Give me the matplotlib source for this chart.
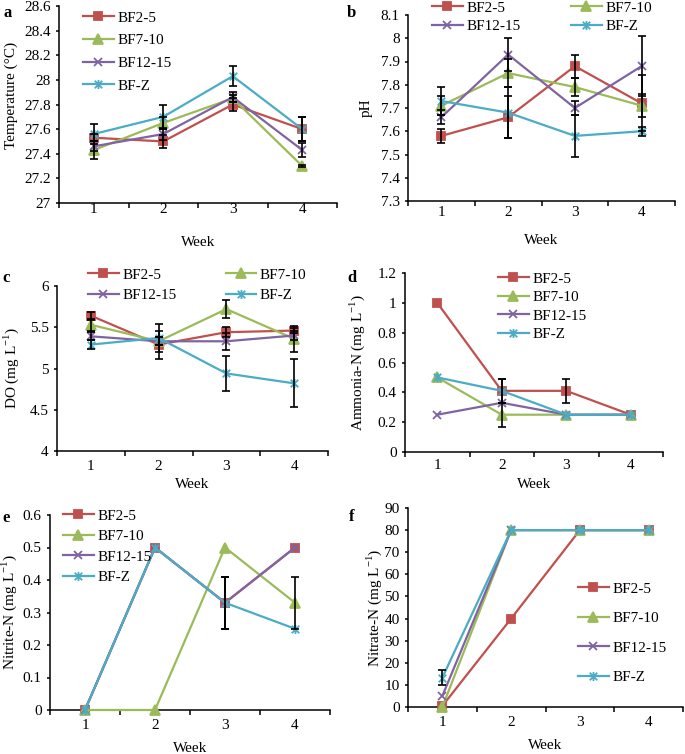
import numpy as np
import matplotlib
matplotlib.use("Agg")
import matplotlib.pyplot as plt
from matplotlib.path import Path

plt.rcParams['font.family'] = ['Liberation Serif', 'DejaVu Serif']
plt.rcParams['mathtext.fontset'] = 'custom'
plt.rcParams['mathtext.rm'] = 'Liberation Serif'
plt.rcParams['font.size'] = 11

# ---------------- data ----------------
weeks = [1, 2, 3, 4]
series_names = ['BF2-5', 'BF7-10', 'BF12-15', 'BF-Z']

temp_bf25 = [27.53, 27.50, 27.80, 27.60]
temp_bf710 = [27.43, 27.65, 27.85, 27.30]
temp_bf1215 = [27.46, 27.56, 27.86, 27.43]
temp_bfz = [27.56, 27.70, 28.03, 27.60]
temp_err_bf25 = [0.03, 0.05, 0.05, 0.10]
temp_err_bf710 = [0.07, 0.05, 0.03, 0.01]
temp_err_bf1215 = [0.04, 0.05, 0.04, 0.06]
temp_err_bfz = [0.08, 0.10, 0.08, 0.10]

ph_bf25 = [7.58, 7.66, 7.88, 7.72]
ph_bf710 = [7.71, 7.85, 7.79, 7.71]
ph_bf1215 = [7.66, 7.93, 7.70, 7.88]
ph_bfz = [7.73, 7.68, 7.58, 7.60]
ph_err_bf25 = [0.03, 0.09, 0.05, 0.12]
ph_err_bf710 = [0.04, 0.06, 0.04, 0.05]
ph_err_bf1215 = [0.03, 0.07, 0.03, 0.13]
ph_err_bfz = [0.06, 0.11, 0.09, 0.02]

do_bf25 = [5.64, 5.29, 5.44, 5.46]
do_bf710 = [5.53, 5.33, 5.72, 5.36]
do_bf1215 = [5.39, 5.33, 5.33, 5.40]
do_bfz = [5.29, 5.37, 4.94, 4.82]
do_err_bf25 = [0.05, 0.17, 0.06, 0.03]
do_err_bf710 = [0.07, 0.05, 0.11, 0.16]
do_err_bf1215 = [0.05, 0.05, 0.10, 0.05]
do_err_bfz = [0.05, 0.17, 0.21, 0.29]

amm_bf25 = [1.00, 0.41, 0.41, 0.25]
amm_bf710 = [0.50, 0.25, 0.25, 0.25]
amm_bf1215 = [0.25, 0.33, 0.25, 0.25]
amm_bfz = [0.50, 0.41, 0.25, 0.25]
amm_err_bf25 = [0, 0.08, 0.08, 0]
amm_err_bf710 = [0, 0.08, 0, 0]
amm_err_bf1215 = [0, 0, 0, 0]
amm_err_bfz = [0, 0.08, 0, 0]

nitrite_bf25 = [0, 0.50, 0.33, 0.50]
nitrite_bf710 = [0, 0, 0.50, 0.33]
nitrite_bf1215 = [0, 0.50, 0.33, 0.50]
nitrite_bfz = [0, 0.50, 0.33, 0.25]
nitrite_err_bf25 = [0, 0, 0.08, 0]
nitrite_err_bf710 = [0, 0, 0, 0.08]
nitrite_err_bf1215 = [0, 0, 0.08, 0]
nitrite_err_bfz = [0, 0, 0.08, 0]

nitrate_bf25 = [0.5, 40, 80, 80]
nitrate_bf710 = [0, 80, 80, 80]
nitrate_bf1215 = [5, 80, 80, 80]
nitrate_bfz = [13.3, 80, 80, 80]
nitrate_err_bf25 = [0, 0, 0, 0]
nitrate_err_bf710 = [0, 0, 0, 0]
nitrate_err_bf1215 = [0, 0, 0, 0]
nitrate_err_bfz = [3.3, 0, 0, 0]

temp_ticks = [27, 27.2, 27.4, 27.6, 27.8, 28, 28.2, 28.4, 28.6]
ph_ticks = [7.3, 7.4, 7.5, 7.6, 7.7, 7.8, 7.9, 8, 8.1]
do_ticks = [4, 4.5, 5, 5.5, 6]
amm_ticks = [0, 0.2, 0.4, 0.6, 0.8, 1, 1.2]
nitrite_ticks = [0, 0.1, 0.2, 0.3, 0.4, 0.5, 0.6]
nitrate_ticks = [0, 10, 20, 30, 40, 50, 60, 70, 80, 90]

# ---------------- styles ----------------
colors = ['#C0504D', '#9BBB59', '#8064A2', '#4BACC6']
star = Path([(-1, -1), (1, 1), (-1, 1), (1, -1), (0, -1.2), (0, 1.2)],
            [Path.MOVETO, Path.LINETO, Path.MOVETO, Path.LINETO, Path.MOVETO, Path.LINETO])
markers = ['s', '^', 'x', star]
msizes = [6, 6.5, 6, 6.5]

W, H = 685, 754
fig = plt.figure(figsize=(W / 100, H / 100), dpi=100)


def rect(l, r, t, b):
    return [l / W, 1 - b / H, (r - l) / W, (b - t) / H]


def fmt(v):
    return '%g' % v


def panel(box, vals, errs, ticks, ylabel, letter, letter_xy, ylab_xy, xlab_y, xpad,
          leg_xy, ncol, lspacing, cspacing, order):
    ax = fig.add_axes(rect(*box))
    for i, (v, e) in enumerate(zip(vals, errs)):
        ax.plot(weeks, v, color=colors[i], lw=1.6, marker=markers[i], ms=msizes[i],
                mew=1.3, label=series_names[i], clip_on=False, zorder=3)
    for i, (v, e) in enumerate(zip(vals, errs)):
        x = np.array(weeks, float)
        v = np.array(v, float)
        e = np.array(e, float)
        m = e > 0
        if m.any():
            ax.errorbar(x[m], v[m], yerr=e[m], fmt='none', ecolor='black', elinewidth=1.2,
                        capsize=3, capthick=1.2, zorder=4, clip_on=False)
    ax.set_xlim(0.5, 4.5)
    ax.set_ylim(ticks[0], ticks[-1])
    ax.set_yticks(ticks)
    ax.set_yticklabels([fmt(t) for t in ticks])
    ax.set_xticks(weeks)
    ax.set_xticklabels([str(w) for w in weeks])
    ax.set_xticks([0.5, 1.5, 2.5, 3.5, 4.5], minor=True)
    ax.tick_params(axis='x', which='major', length=0, pad=xpad, labelsize=11)
    ax.tick_params(axis='x', which='minor', length=3.5, width=1.1, direction='out')
    ax.tick_params(axis='y', which='major', length=2.5, width=1.1, direction='out', pad=3.5, labelsize=11)
    for s in ['top', 'right']:
        ax.spines[s].set_visible(False)
    for s in ['left', 'bottom']:
        ax.spines[s].set_linewidth(1.1)
    ax.set_ylabel(ylabel, fontsize=11)
    ax.yaxis.set_label_coords(*ylab_xy)
    ax.yaxis.label.set_va('center')
    ax.set_xlabel('Week', fontsize=11)
    ax.xaxis.set_label_coords(0.5, xlab_y)
    ax.xaxis.label.set_va('center')
    h, l = ax.get_legend_handles_labels()
    ax.legend([h[k] for k in order], [l[k] for k in order], loc='upper left',
              bbox_to_anchor=(leg_xy[0] / W, 1 - leg_xy[1] / H), bbox_transform=fig.transFigure,
              ncol=ncol, frameon=False, borderpad=0, borderaxespad=0, handlelength=2.0,
              handletextpad=0.25, labelspacing=lspacing, columnspacing=cspacing, fontsize=11)
    fig.text(letter_xy[0] / W, 1 - letter_xy[1] / H, letter, fontsize=12, fontweight='bold',
             ha='left', va='center')
    return ax


panel((59, 337, 6, 203),
      [temp_bf25, temp_bf710, temp_bf1215, temp_bfz],
      [temp_err_bf25, temp_err_bf710, temp_err_bf1215, temp_err_bfz],
      temp_ticks, 'Temperature (°C)', 'a', (3, 13), (-0.173, 0.545), -0.198, 0.3,
      (83, 11), 1, 0.59, 2.0, [0, 1, 2, 3])

panel((408, 675, 15, 201),
      [ph_bf25, ph_bf710, ph_bf1215, ph_bfz],
      [ph_err_bf25, ph_err_bf710, ph_err_bf1215, ph_err_bfz],
      ph_ticks, 'pH', 'b', (347, 13), (-0.157, 0.5), -0.21, 3.4,
      (432, 1), 2, 0.31, 3.3, [0, 2, 1, 3])

panel((57, 328, 286, 451),
      [do_bf25, do_bf710, do_bf1215, do_bfz],
      [do_err_bf25, do_err_bf710, do_err_bf1215, do_err_bfz],
      do_ticks, 'DO (mg L$^{-1}$)', 'c', (2, 278), (-0.17, 0.5), -0.206, 6.5,
      (88, 268), 2, 0.44, 3.2, [0, 2, 1, 3])

panel((405, 663, 273, 452),
      [amm_bf25, amm_bf710, amm_bf1215, amm_bfz],
      [amm_err_bf25, amm_err_bf710, amm_err_bf1215, amm_err_bfz],
      amm_ticks, 'Ammonia-N (mg L$^{-1}$)', 'd', (347, 278), (-0.186, 0.5), -0.184, 5.3,
      (498, 272), 1, 0.31, 2.0, [0, 1, 2, 3])

panel((50, 330, 515, 710),
      [nitrite_bf25, nitrite_bf710, nitrite_bf1215, nitrite_bfz],
      [nitrite_err_bf25, nitrite_err_bf710, nitrite_err_bf1215, nitrite_err_bfz],
      nitrite_ticks, 'Nitrite-N (mg L$^{-1}$)', 'e', (2, 518), (-0.146, 0.5), -0.195, 6.8,
      (63, 509), 1, 0.44, 2.0, [0, 1, 2, 3])

panel((408, 683, 508, 707),
      [nitrate_bf25, nitrate_bf710, nitrate_bf1215, nitrate_bfz],
      [nitrate_err_bf25, nitrate_err_bf710, nitrate_err_bf1215, nitrate_err_bfz],
      nitrate_ticks, 'Nitrate-N (mg L$^{-1}$)', 'f', (349, 517), (-0.124, 0.5), -0.191, 6.5,
      (578, 582), 1, 1.03, 2.0, [0, 1, 2, 3])

fig.savefig('out.png', dpi=100)
